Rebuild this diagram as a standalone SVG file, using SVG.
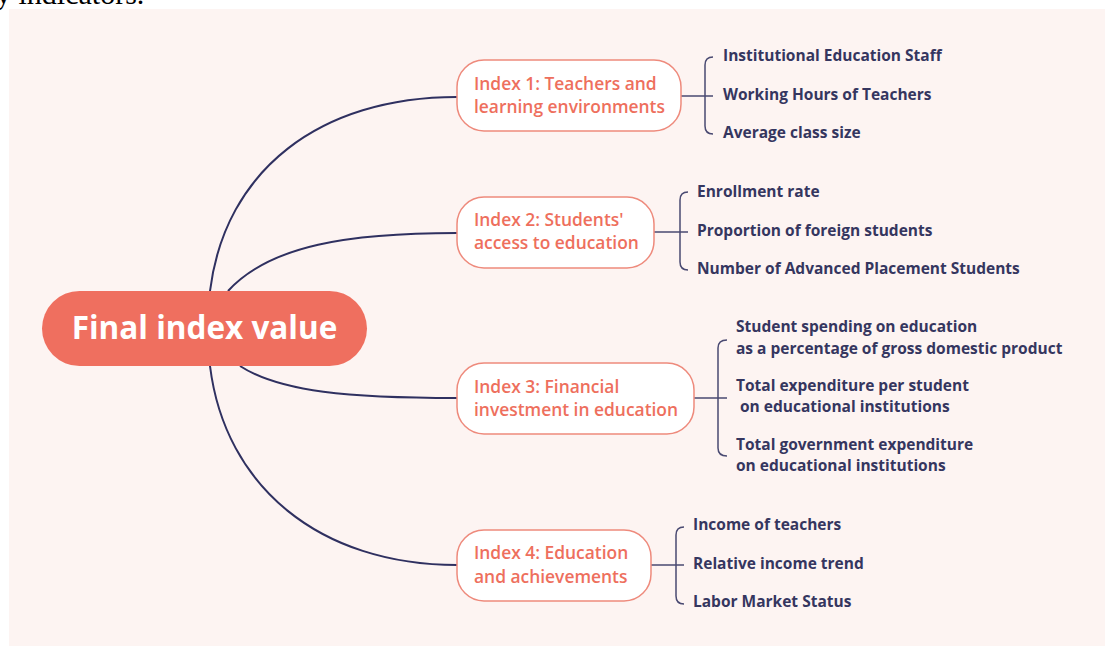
<svg xmlns="http://www.w3.org/2000/svg" width="1105" height="646" viewBox="0 0 1105 646">
  <style>
    .panel { fill: #fdf4f2; }
    .link { fill: none; stroke: #2f3060; stroke-width: 2; }
    .brace { fill: none; stroke: #4a4a72; stroke-width: 1.5; }
    .root rect { fill: #ef6f5f; }
    .root text { fill: #ffffff; font-family: "Open Sans", "Noto Sans", sans-serif; font-weight: 700; font-size: 31.5px; }
    .idx rect { fill: #ffffff; stroke: #ee8a7c; stroke-width: 1.5; }
    .idx text { fill: #ee6f5d; font-family: "Open Sans", "Noto Sans", sans-serif; font-weight: 600; font-size: 17.4px; }
    .item { fill: #35365f; font-family: "Open Sans", "Noto Sans", sans-serif; font-weight: 700; font-size: 15.5px; }
    .caption { fill: #000000; font-family: "Liberation Serif", serif; font-size: 30px; }
  </style>

  <rect width="1105" height="646" fill="#ffffff"/>
  <text class="caption" x="-4" y="4">y indicators.</text>
  <rect class="panel" x="9" y="9" width="1096" height="637"/>

  <!-- curved links from the root to each index -->
  <g id="connectors">
    <path class="link" d="M210,291 C225,170 320,97 457,97"/>
    <path class="link" d="M228,291 C270,245 350,233 457,233"/>
    <path class="link" d="M240,366 C280,392 350,398 457,398"/>
    <path class="link" d="M210,366 C225,487 320,565 457,565"/>

    <!-- stubs and braces towards the indicator lists -->
    <path class="brace" d="M681,96 H713 M713,57 Q705,57 705,65 V126 Q705,134 713,134"/>
    <path class="brace" d="M654,232 H688 M688,192 Q680,192 680,200 V262 Q680,270 688,270"/>
    <path class="brace" d="M694,398 H727 M727,340 Q718,340 718,348 V448 Q718,456 727,456"/>
    <path class="brace" d="M651,565 H684 M684,527 Q676,527 676,535 V596 Q676,604 684,604"/>
  </g>

  <g id="root" class="root">
    <rect x="42" y="291" width="325" height="75" rx="37.5"/>
    <text x="204.5" y="339" text-anchor="middle">Final index value</text>
  </g>

  <g id="index1" class="idx">
    <rect x="457" y="60" width="224" height="71" rx="27"/>
    <text x="474" y="90">Index 1: Teachers and</text>
    <text x="474" y="113">learning environments</text>
  </g>
  <g id="index2" class="idx">
    <rect x="457" y="197" width="197" height="71" rx="27"/>
    <text x="474" y="226">Index 2: Students'</text>
    <text x="474" y="249">access to education</text>
  </g>
  <g id="index3" class="idx">
    <rect x="457" y="363" width="237" height="71" rx="27"/>
    <text x="474" y="393">Index 3: Financial</text>
    <text x="474" y="416">investment in education</text>
  </g>
  <g id="index4" class="idx">
    <rect x="457" y="530" width="194" height="71" rx="27"/>
    <text x="474" y="559">Index 4: Education</text>
    <text x="474" y="583">and achievements</text>
  </g>

  <g id="items1">
    <text class="item" x="723" y="61">Institutional Education Staff</text>
    <text class="item" x="723" y="100">Working Hours of Teachers</text>
    <text class="item" x="723" y="138">Average class size</text>
  </g>
  <g id="items2">
    <text class="item" x="697" y="197">Enrollment rate</text>
    <text class="item" x="697" y="236">Proportion of foreign students</text>
    <text class="item" x="697" y="274">Number of Advanced Placement Students</text>
  </g>
  <g id="items3">
    <text class="item" x="736" y="332">Student spending on education</text>
    <text class="item" x="736" y="354">as a percentage of gross domestic product</text>
    <text class="item" x="736" y="391">Total expenditure per student</text>
    <text class="item" x="736" y="412" xml:space="preserve"> on educational institutions</text>
    <text class="item" x="736" y="450">Total government expenditure</text>
    <text class="item" x="736" y="471">on educational institutions</text>
  </g>
  <g id="items4">
    <text class="item" x="693" y="530">Income of teachers</text>
    <text class="item" x="693" y="569">Relative income trend</text>
    <text class="item" x="693" y="607">Labor Market Status</text>
  </g>
</svg>
